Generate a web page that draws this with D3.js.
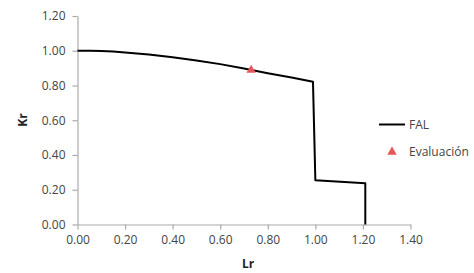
<!DOCTYPE html>
<html><head><meta charset="utf-8">
<script src="https://cdn.jsdelivr.net/npm/d3@7"></script>
<style>body{margin:0;background:#fff}svg{display:block}</style>
</head><body><div id="chart"></div>
<script>
const lrValues = [0, 0.05, 0.1, 0.15, 0.2, 0.3, 0.4, 0.5, 0.6, 0.7, 0.8, 0.9, 0.99, 1.0, 1.21, 1.21];
const krValues = [1.0, 1.0, 0.998, 0.995, 0.99, 0.978, 0.962, 0.944, 0.923, 0.898, 0.871, 0.846, 0.821, 0.255, 0.238, 0];
const evalLr = [0.73];
const evalKr = [0.889];
const xTicks = [0, 0.2, 0.4, 0.6, 0.8, 1.0, 1.2, 1.4];
const yTicks = [0, 0.2, 0.4, 0.6, 0.8, 1.0, 1.2];
const seriesNames = ["FAL", "Evaluación"];

const W = 474, H = 273;
const svg = d3.select("#chart").append("svg").attr("width", W).attr("height", H);
const font = "'Open Sans', sans-serif";
const x = d3.scaleLinear().domain([0, 1.4]).range([77.5, 410.5]);
const y = d3.scaleLinear().domain([0, 1.2]).range([224.5, 16]);

const xAxis = svg.append("g").attr("transform", `translate(0,${y(0)})`)
  .call(d3.axisBottom(x).tickValues(xTicks).tickFormat(d3.format(".2f")).tickSizeInner(5).tickSizeOuter(0).tickPadding(6));
const yAxis = svg.append("g").attr("transform", `translate(${x(0)},0)`)
  .call(d3.axisLeft(y).tickValues(yTicks).tickFormat(d3.format(".2f")).tickSizeInner(5).tickSizeOuter(0).tickPadding(7));
[xAxis, yAxis].forEach(a => {
  a.selectAll("path,line").attr("stroke", "#aaa").attr("stroke-width", 1.2);
  a.selectAll("text").attr("fill", "#444").style("font-family", font).style("font-size", "12px");
});

const pts = lrValues.map((v, i) => [v, krValues[i]]);
svg.append("path").datum(pts)
  .attr("d", d3.line().x(d => x(d[0])).y(d => y(d[1])))
  .attr("fill", "none").attr("stroke", "#000").attr("stroke-width", 2).attr("stroke-linejoin", "round");

const tri = d3.symbol().type(d3.symbolTriangle).size(38);
svg.selectAll(".ev").data(evalLr.map((v, i) => [v, evalKr[i]])).enter().append("path")
  .attr("d", tri).attr("transform", d => `translate(${x(d[0])},${y(d[1])})`).attr("fill", "#e8565a");

// legend
svg.append("line").attr("x1", 379).attr("x2", 405).attr("y1", 124.5).attr("y2", 124.5)
  .attr("stroke", "#000").attr("stroke-width", 2);
svg.append("text").attr("x", 409).attr("y", 124.5).attr("dy", "0.35em").text(seriesNames[0])
  .attr("fill", "#444").style("font-family", font).style("font-size", "12px");
svg.append("path").attr("d", tri).attr("transform", "translate(392,152)").attr("fill", "#e8565a");
svg.append("text").attr("x", 409).attr("y", 152).attr("dy", "0.35em").text(seriesNames[1])
  .attr("fill", "#444").style("font-family", font).style("font-size", "12px");

// axis titles
svg.append("text").attr("x", 248).attr("y", 264).attr("text-anchor", "middle").attr("dy", "0.35em")
  .text("Lr").attr("fill", "#222").style("font-family", font).style("font-size", "12px").style("font-weight", "bold");
svg.append("text").attr("transform", "translate(23,120) rotate(-90)").attr("text-anchor", "middle").attr("dy", "0.35em")
  .text("Kr").attr("fill", "#222").style("font-family", font).style("font-size", "12px").style("font-weight", "bold");
</script></body></html>
